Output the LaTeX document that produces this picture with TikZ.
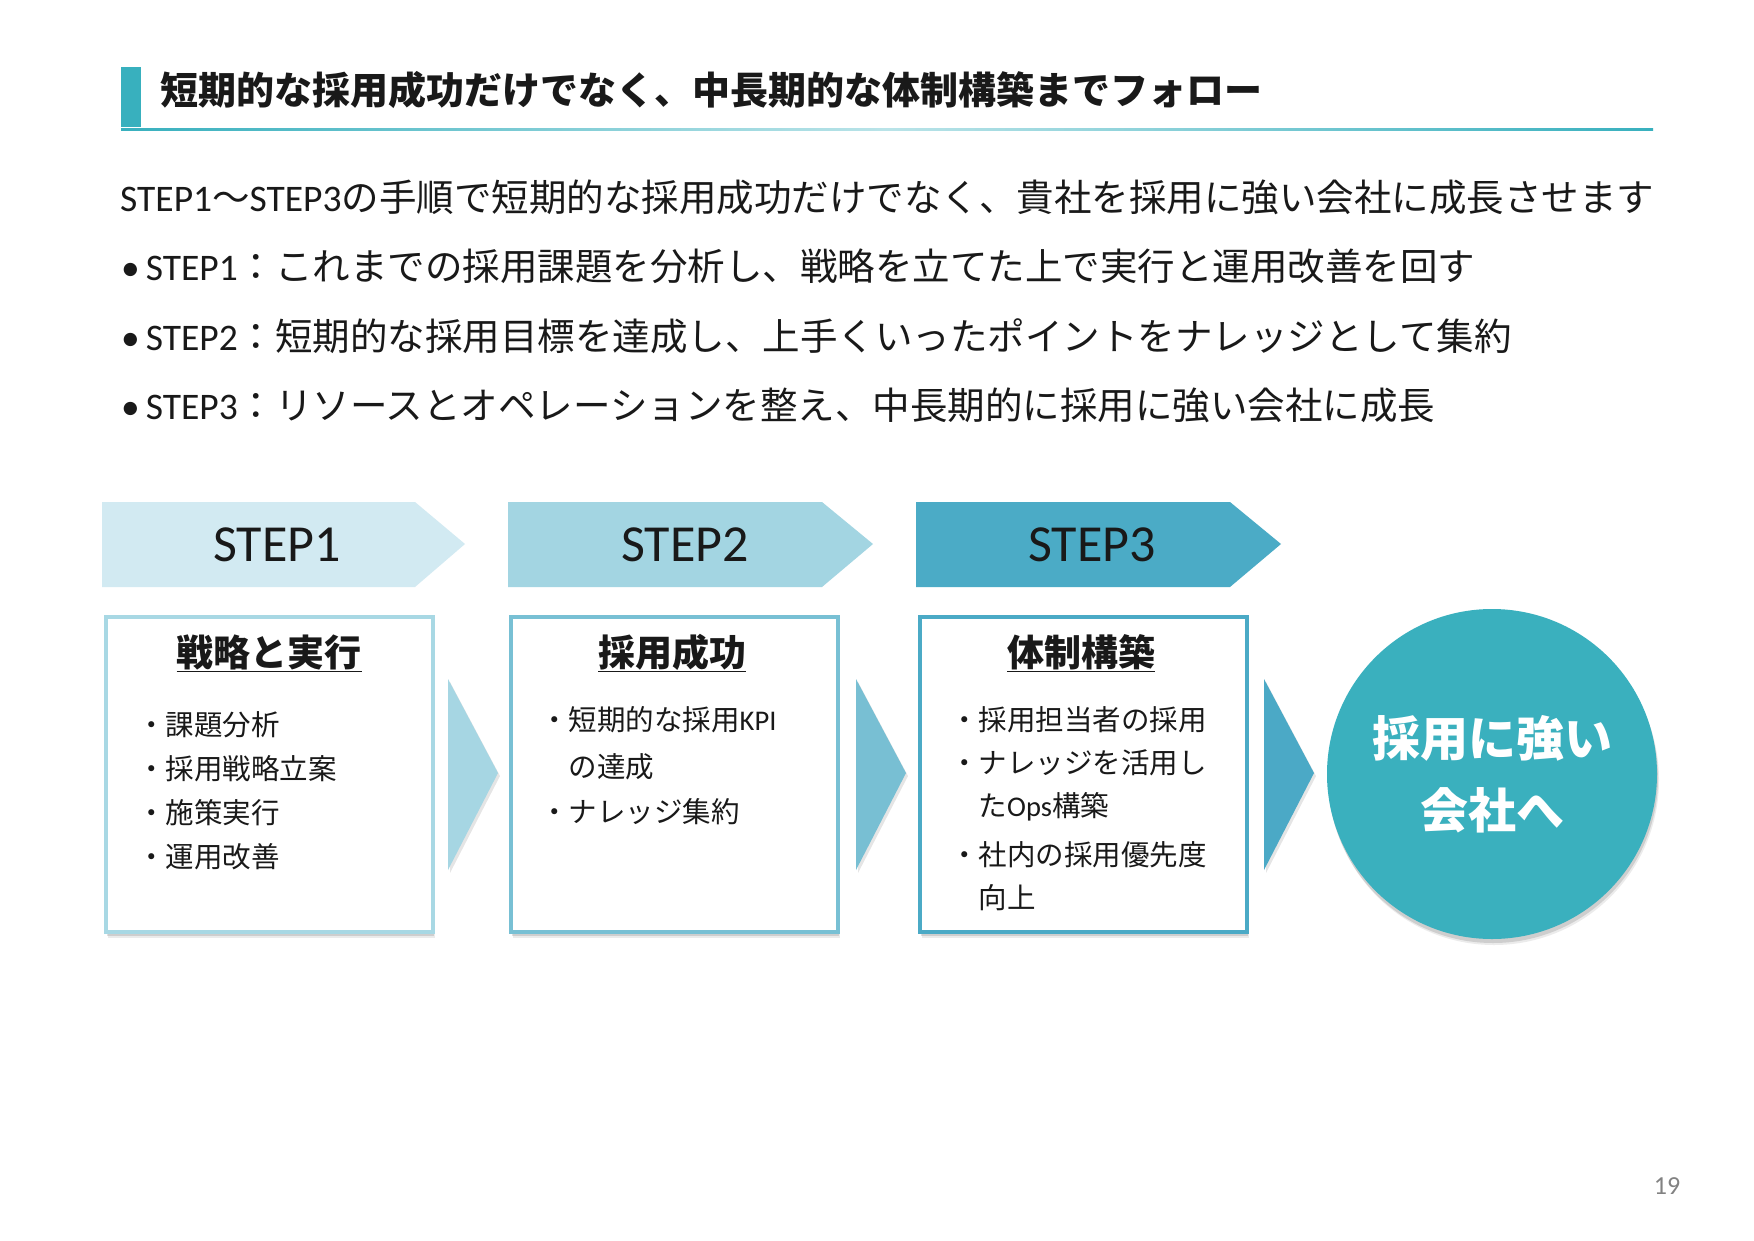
\documentclass[tikz,border=0pt]{standalone}
\usepackage{fontspec}
\setmainfont{Noto Sans CJK JP}
\newfontfamily\latf{Carlito}
\usetikzlibrary{shadows}
\definecolor{tealc}{RGB}{56,176,190}
\definecolor{txt}{RGB}{25,25,25}
\definecolor{sa}{RGB}{210,234,242}
\definecolor{sb}{RGB}{163,213,226}
\definecolor{sc}{RGB}{75,171,198}
\definecolor{ba}{RGB}{168,216,228}
\definecolor{bb}{RGB}{120,192,212}
\definecolor{bc}{RGB}{75,170,198}
\definecolor{aa}{RGB}{166,214,227}
\definecolor{ab}{RGB}{120,191,211}
\definecolor{ac}{RGB}{75,169,198}
\definecolor{circc}{RGB}{58,176,190}
\definecolor{pgc}{RGB}{130,130,130}
\begin{document}
\begin{tikzpicture}[x=1pt,y=-1pt,
  every node/.style={text=txt, inner sep=0pt},
  titlefont/.style={font=\fontsize{38}{44}\selectfont\bfseries},
  bodyfont/.style={font=\fontsize{37.5}{44}\selectfont},
  stepfont/.style={font=\latf\fontsize{52}{58}\selectfont},
  headfont/.style={font=\fontsize{37}{44}\selectfont\bfseries},
  itemfont/.style={font=\fontsize{28.5}{34}\selectfont},
  softshadow/.style={drop shadow={shadow xshift=1pt, shadow yshift=-4pt, opacity=0.12, fill=black},
    drop shadow={shadow xshift=2pt, shadow yshift=-6pt, opacity=0.08, fill=black}},
  stepbox/.style={draw, line width=4pt, fill=white, minimum width=327pt, minimum height=315pt, softshadow},
  tri/.style={drop shadow={shadow xshift=2pt, shadow yshift=-3pt, opacity=0.1, fill=black}}
]
\useasboundingbox[fill=white] (0,0) rectangle (1754,1240);

% title
\fill[tealc] (121,67) rectangle (141,127);
\shade[left color=tealc, right color=tealc, middle color=tealc!35] (121,128) rectangle (1653,130);
\node[titlefont, anchor=west] (title) at (160,90) {短期的な採用成功だけでなく、中長期的な体制構築までフォロー};

% intro
\node[bodyfont, anchor=west] (intro) at (120,197) {{\latf STEP1}～{\latf STEP3}の手順で短期的な採用成功だけでなく、貴社を採用に強い会社に成長させます};
\node[bodyfont, anchor=west] (l1) at (121,266) {{\latf •\hspace{6pt}STEP1}：これまでの採用課題を分析し、戦略を立てた上で実行と運用改善を回す};
\node[bodyfont, anchor=west] (l2) at (121,336) {{\latf •\hspace{6pt}STEP2}：短期的な採用目標を達成し、上手くいったポイントをナレッジとして集約};
\node[bodyfont, anchor=west] (l3) at (121,405) {{\latf •\hspace{6pt}STEP3}：リソースとオペレーションを整え、中長期的に採用に強い会社に成長};

% chevrons
\fill[sa] (102,502) -- (415,502) -- (465,544) -- (415,587) -- (102,587) -- cycle;
\fill[sb] (508,502) -- (822,502) -- (873,544) -- (822,587) -- (508,587) -- cycle;
\fill[sc] (916,502) -- (1230,502) -- (1281,544) -- (1230,587) -- (916,587) -- cycle;
\node[stepfont] (st1) at (277,545) {STEP1};
\node[stepfont] (st2) at (685,545) {STEP2};
\node[stepfont] (st3) at (1092,545) {STEP3};

% boxes
\node[stepbox, draw=ba] (box1) at (269,774) {};
\node[stepbox, draw=bb] (box2) at (674,774) {};
\node[stepbox, draw=bc] (box3) at (1083,774) {};

\node[headfont] (h1) at (269,653) {\underline{戦略と実行}};
\node[headfont] (h2) at (672,653) {\underline{採用成功}};
\node[headfont] (h3) at (1081,653) {\underline{体制構築}};

% items box1
\node[itemfont, anchor=west] (i11) at (137,725) {・課題分析};
\node[itemfont, anchor=west] (i12) at (137,769) {・採用戦略立案};
\node[itemfont, anchor=west] (i13) at (137,813) {・施策実行};
\node[itemfont, anchor=west] (i14) at (137,857) {・運用改善};
% items box2
\node[itemfont, anchor=west] (i21) at (540,720) {・短期的な採用{\latf KPI}};
\node[itemfont, anchor=west] (i22) at (568.5,767) {の達成};
\node[itemfont, anchor=west] (i23) at (540,812) {・ナレッジ集約};
% items box3
\node[itemfont, anchor=west] (i31) at (950,720) {・採用担当者の採用};
\node[itemfont, anchor=west] (i32) at (950,763) {・ナレッジを活用し};
\node[itemfont, anchor=west] (i33) at (978.5,807) {た{\latf Ops}構築};
\node[itemfont, anchor=west] (i34) at (950,855) {・社内の採用優先度};
\node[itemfont, anchor=west] (i35) at (978.5,898) {向上};

% triangles
\fill[aa, tri] (448,679) -- (498,773) -- (448,870) -- cycle;
\fill[ab, tri] (856,679) -- (906,773) -- (856,870) -- cycle;
\fill[ac, tri] (1264,679) -- (1314,773) -- (1264,870) -- cycle;

% circle
\node[circle, fill=circc, minimum size=330pt, softshadow] (goal) at (1492,774) {};
\node[font=\fontsize{48}{72}\selectfont\bfseries, text=white, align=center] (goaltext) at (goal.center) {採用に強い\\会社へ};

% page number
\node[font=\latf\fontsize{26}{30}\selectfont, text=pgc] (pg) at (1667,1186) {19};
\end{tikzpicture}
\end{document}
